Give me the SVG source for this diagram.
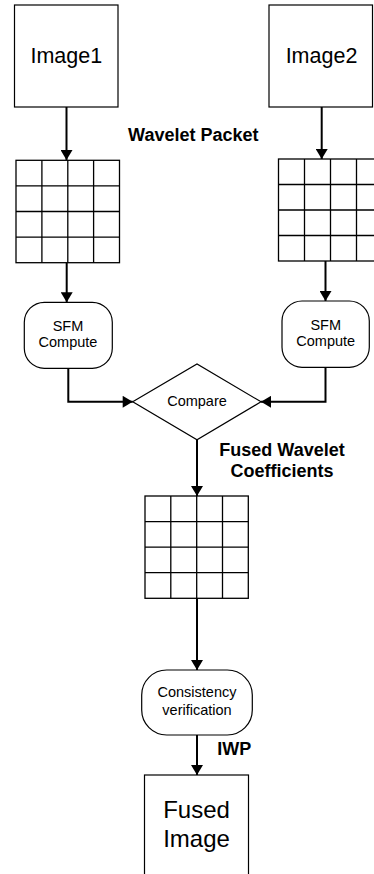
<svg xmlns="http://www.w3.org/2000/svg" width="374" height="874" viewBox="0 0 374 874">
<style>
.box{fill:#fff;stroke:#000;stroke-width:1.2}
.grid{fill:none;stroke:#000;stroke-width:1.3}
.conn{fill:none;stroke:#000;stroke-width:2}
.t{font-family:"Liberation Sans",Arial,sans-serif;fill:#000;text-anchor:middle}
.b{font-family:"Liberation Sans",Arial,sans-serif;font-weight:bold;font-size:18px;fill:#000}
</style>
<defs>
<marker id="arr" markerUnits="userSpaceOnUse" markerWidth="12" markerHeight="12" viewBox="0 0 10 12" refX="10" refY="6" orient="auto">
<path d="M0,0 L10,6 L0,12 Z" fill="#000"/>
</marker>
</defs>
<g id="image1">
<rect class="box" x="14.5" y="5" width="103.5" height="102"/>
<text class="t" x="66.3" y="62.5" font-size="21.5">Image1</text>
</g>
<g id="image2">
<rect class="box" x="269" y="5" width="103.5" height="102"/>
<text class="t" x="321.5" y="62.5" font-size="21.5">Image2</text>
</g>
<g id="grid1">
<rect class="grid" x="16" y="160.3" width="103.5" height="102.4"/>
<path class="grid" d="M41.9 160.3V262.7M67.8 160.3V262.7M93.6 160.3V262.7M16 185.9H119.5M16 211.5H119.5M16 237.1H119.5"/>
</g>
<g id="grid2">
<rect class="grid" x="278.5" y="159" width="104" height="102"/>
<path class="grid" d="M304.5 159V261M330.5 159V261M356.5 159V261M278.5 184.5H382.5M278.5 210H382.5M278.5 235.5H382.5"/>
</g>
<g id="label-wavelet">
<text class="b" x="193.3" y="140.7" text-anchor="middle">Wavelet Packet</text>
</g>
<g id="sfm1">
<rect class="box" x="24.3" y="302.3" width="88" height="66" rx="20"/>
<text class="t" x="68" y="330.7" font-size="14.5">SFM</text>
<text class="t" x="68" y="347.3" font-size="14.5">Compute</text>
</g>
<g id="sfm2">
<rect class="box" x="282" y="301" width="87.3" height="66.3" rx="20"/>
<text class="t" x="325.7" y="329.5" font-size="14.5">SFM</text>
<text class="t" x="325.7" y="346" font-size="14.5">Compute</text>
</g>
<g id="compare">
<polygon class="box" points="132.7,401.8 197,364 261,401.8 197,439.7"/>
<text class="t" x="197" y="405.7" font-size="14.5">Compare</text>
</g>
<g id="label-fused-coeff">
<text class="b" x="282" y="455.7" text-anchor="middle">Fused Wavelet</text>
<text class="b" x="282" y="476.7" text-anchor="middle">Coefficients</text>
</g>
<g id="grid3">
<rect class="grid" x="145" y="496" width="103.3" height="102.3"/>
<path class="grid" d="M170.8 496V598.3M196.7 496V598.3M222.5 496V598.3M145 521.6H248.3M145 547.2H248.3M145 572.7H248.3"/>
</g>
<g id="consistency">
<rect class="box" x="141.7" y="670" width="110.6" height="65" rx="25"/>
<text class="t" x="197" y="696.7" font-size="14.5">Consistency</text>
<text class="t" x="197" y="714.5" font-size="14.5">verification</text>
</g>
<g id="label-iwp">
<text class="b" x="217.3" y="755">IWP</text>
</g>
<g id="fused-image">
<rect class="box" x="144.5" y="775" width="104" height="120"/>
<text class="t" x="196.5" y="817.7" font-size="24">Fused</text>
<text class="t" x="196.5" y="846.7" font-size="24">Image</text>
</g>
<g id="connectors">
<path class="conn" d="M66.5 107V160" marker-end="url(#arr)"/>
<path class="conn" d="M321.7 107V159" marker-end="url(#arr)"/>
<path class="conn" d="M66.7 262.7V302.3" marker-end="url(#arr)"/>
<path class="conn" d="M325.5 261V301" marker-end="url(#arr)"/>
<path class="conn" d="M68.3 368.3V401.8H132.7" marker-end="url(#arr)"/>
<path class="conn" d="M325.5 367.3V401.8H261" marker-end="url(#arr)"/>
<path class="conn" d="M197 439.7V496" marker-end="url(#arr)"/>
<path class="conn" d="M197 598.3V670" marker-end="url(#arr)"/>
<path class="conn" d="M197 735V775" marker-end="url(#arr)"/>
</g>
</svg>
